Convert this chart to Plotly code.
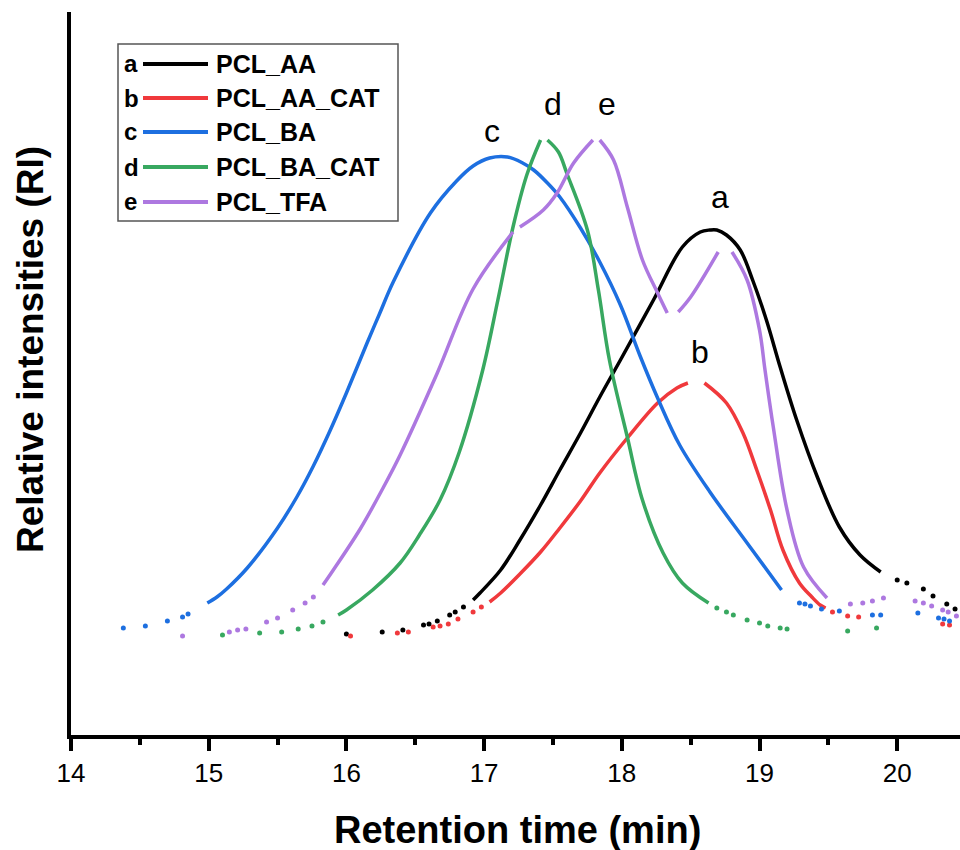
import plotly.graph_objects as go

# ---------------- data (retention time in min, relative intensity in arbitrary units) ----------------
a_line_x = [16.92, 16.97, 17.12, 17.26, 17.41, 17.55, 17.70, 17.84, 17.99, 18.23, 18.44, 18.57, 18.64, 18.69,
            18.76, 18.86, 18.95, 19.05, 19.15, 19.27, 19.42, 19.58, 19.73, 19.88]
a_line_y = [135, 142, 165, 195, 230, 265, 302, 338, 375, 435, 488, 503, 505, 505,
            500, 485, 455, 415, 368, 315, 258, 208, 180, 163]
a_dot_x = [16.00, 16.26, 16.41, 16.56, 16.60, 16.66, 16.75, 16.79, 16.85, 20.00, 20.07, 20.19, 20.26, 20.36, 20.42]
a_dot_y = [101, 103, 105, 110, 111, 114, 120, 123, 128, 155, 152, 146, 139, 131, 126]

b_line_x = [17.04, 17.12, 17.26, 17.41, 17.55, 17.70, 17.84, 18.04, 18.26, 18.40, 18.48, None,
            18.60, 18.76, 18.88, 18.98, 19.08, 19.17, 19.29, 19.38, 19.44, 19.48]
b_line_y = [133, 142, 161, 183, 207, 234, 262, 297, 332, 347, 352, None,
            352, 332, 302, 265, 225, 185, 152, 138, 130, 127]
b_dot_x = [16.03, 16.37, 16.45, 16.63, 16.68, 16.74, 16.81, 16.92, 16.98, 19.53, 19.64, 19.72, 20.33, 20.38]
b_dot_y = [99, 102, 103, 108, 109, 111, 116, 123, 128, 123, 119, 118, 111, 110]

c_line_x = [14.99, 15.06, 15.13, 15.28, 15.50, 15.64, 15.76, 15.88, 16.00, 16.15, 16.24, 16.34, 16.61, 16.80,
            16.92, 17.04, 17.17, 17.28, 17.36, 17.46, 17.55, 17.70, 17.84, 17.99, 18.13, 18.26, 18.42, 18.64,
            18.91, 19.16]
c_line_y = [132, 138, 146, 167, 207, 238, 269, 304, 342, 392, 421, 453, 522, 554,
            569, 577, 578, 572, 565, 552, 538, 507, 473, 430, 380, 337, 290, 243,
            192, 145]
c_dot_x = [14.38, 14.54, 14.70, 14.81, 14.85, 19.29, 19.33, 19.37, 19.45, 19.58, 19.82, 19.88, 20.15, 20.30,
           20.34, 20.38]
c_dot_y = [107, 109, 114, 118, 121, 132, 131, 129, 126, 124, 120, 120, 122, 117, 116, 114]

d_line_x = [15.94, 16.00, 16.19, 16.39, 16.53, 16.68, 16.82, 16.99, 17.10, 17.21, 17.31, 17.41, None,
            17.46, 17.54, 17.60, 17.75, 17.83, 17.91, 18.04, 18.15, 18.30, 18.44, 18.63]
d_line_y = [120, 125, 145, 172, 200, 235, 283, 365, 435, 508, 560, 595, None,
            595, 583, 562, 505, 445, 375, 298, 235, 182, 152, 132]
d_dot_x = [15.10, 15.37, 15.53, 15.65, 15.75, 15.83, 18.69, 18.76, 18.81, 18.91, 19.00, 19.06, 19.15, 19.20,
           19.64, 19.85]
d_dot_y = [100, 102, 103, 106, 109, 113, 127, 123, 120, 115, 112, 109, 107, 106, 104, 107]

e_line_x = [15.83, 15.90, 16.10, 16.27, 16.39, 16.66, 16.92, 17.21, None, 17.26, 17.43, 17.53, 17.65, 17.79, None,
            17.84, 17.94, 18.04, 18.15, 18.26, 18.33, None, 18.41, 18.50, 18.70, None,
            18.80, 18.91, 19.00, 19.04, 19.10, 19.20, 19.32, 19.49]
e_line_y = [150, 164, 206, 248, 280, 362, 446, 503, None, 508, 525, 542, 572, 595, None,
            595, 575, 528, 475, 442, 422, None, 423, 438, 483, None,
            483, 455, 405, 365, 308, 225, 168, 137]
e_dot_x = [14.81, 15.15, 15.21, 15.27, 15.42, 15.50, 15.61, 15.70, 15.76, 19.66, 19.75, 19.82, 19.90, 20.13,
           20.19, 20.25, 20.33, 20.37, 20.43]
e_dot_y = [99, 103, 105, 106, 113, 117, 125, 132, 138, 131, 132, 134, 137, 134, 132, 129, 125, 123, 119]

letters = ["a", "b", "c", "d", "e"]
names = ["PCL_AA", "PCL_AA_CAT", "PCL_BA", "PCL_BA_CAT", "PCL_TFA"]
colors = ["#000000", "#F0393C", "#1D6FE0", "#38A860", "#AD78E0"]
peak_label_x = [18.71, 18.57, 17.06, 17.50, 17.89]
peak_label_y = [538, 383, 604, 631, 631]

x_ticks = [14, 15, 16, 17, 18, 19, 20]

series = [
    (a_line_x, a_line_y, a_dot_x, a_dot_y),
    (b_line_x, b_line_y, b_dot_x, b_dot_y),
    (c_line_x, c_line_y, c_dot_x, c_dot_y),
    (d_line_x, d_line_y, d_dot_x, d_dot_y),
    (e_line_x, e_line_y, e_dot_x, e_dot_y),
]

FONT = "Liberation Sans, Arial, sans-serif"

fig = go.Figure()
for (lx, ly, dx, dy), name, col in zip(series, names, colors):
    fig.add_trace(go.Scatter(x=lx, y=ly, mode="lines", name=name, connectgaps=False,
                             line=dict(color=col, width=3.5, shape="spline", smoothing=1.0),
                             showlegend=False, hoverinfo="skip"))
    fig.add_trace(go.Scatter(x=dx, y=dy, mode="markers", name=name + " tail",
                             marker=dict(color=col, size=5), showlegend=False, hoverinfo="skip"))

# plot-area geometry (pixels) for placing legend/titles in paper coords
L, R, T, B = 71, 960, 12, 735
W, H = R - L, B - T


def px(xp):
    return (xp - L) / W


def py(yp):
    return (B - yp) / H


annotations = []
shapes = []
# peak labels
for lab, xx, yy in zip(letters, peak_label_x, peak_label_y):
    annotations.append(dict(x=xx, y=yy, xref="x", yref="y", text=lab, showarrow=False,
                            font=dict(family=FONT, size=32, color="black"),
                            xanchor="center", yanchor="middle"))

# custom legend
shapes.append(dict(type="rect", xref="paper", yref="paper", x0=px(118), x1=px(398), y0=py(221), y1=py(44),
                   line=dict(color="#555555", width=1.5), fillcolor="white", layer="above"))
row_y = [64, 98, 132, 167, 202]
for lab, name, col, ry in zip(letters, names, colors, row_y):
    shapes.append(dict(type="line", xref="paper", yref="paper", x0=px(143), x1=px(208), y0=py(ry), y1=py(ry),
                       line=dict(color=col, width=4), layer="above"))
    annotations.append(dict(x=px(122), y=py(ry), xref="paper", yref="paper", text="<b>%s</b>" % lab,
                            showarrow=False, xanchor="left", yanchor="middle",
                            font=dict(family=FONT, size=24, color="black")))
    annotations.append(dict(x=px(214), y=py(ry), xref="paper", yref="paper", text="<b>%s</b>" % name,
                            showarrow=False, xanchor="left", yanchor="middle",
                            font=dict(family=FONT, size=25, color="black")))

# axis titles
annotations.append(dict(x=px(517), y=py(830), xref="paper", yref="paper", text="<b>Retention time (min)</b>",
                        showarrow=False, xanchor="center", yanchor="middle",
                        font=dict(family=FONT, size=38, color="black")))
annotations.append(dict(x=px(30), y=py(350), xref="paper", yref="paper", text="<b>Relative intensities (RI)</b>",
                        showarrow=False, xanchor="center", yanchor="middle", textangle=-90,
                        font=dict(family=FONT, size=37, color="black")))

fig.update_layout(
    width=960, height=850,
    margin=dict(l=L, r=960 - R, t=T, b=850 - B),
    paper_bgcolor="white", plot_bgcolor="white",
    showlegend=False,
    annotations=annotations, shapes=shapes,
    xaxis=dict(range=[14, 20.456], showgrid=False, zeroline=False, showline=True, linecolor="black",
               linewidth=4, ticks="outside", ticklen=12, tickwidth=4, tickcolor="black",
               tickvals=x_ticks, ticktext=[str(t) for t in x_ticks],
               tickfont=dict(family=FONT, size=26, color="black"),
               minor=dict(dtick=0.5, ticks="outside", ticklen=6, tickwidth=4, tickcolor="black")),
    yaxis=dict(range=[0, 723], showgrid=False, zeroline=False, showline=True, linecolor="black",
               linewidth=4, ticks="", showticklabels=False),
)

fig.write_html("out.html", config={"displayModeBar": False},
               post_script="document.body.style.margin='0px';document.body.style.overflow='hidden';")
